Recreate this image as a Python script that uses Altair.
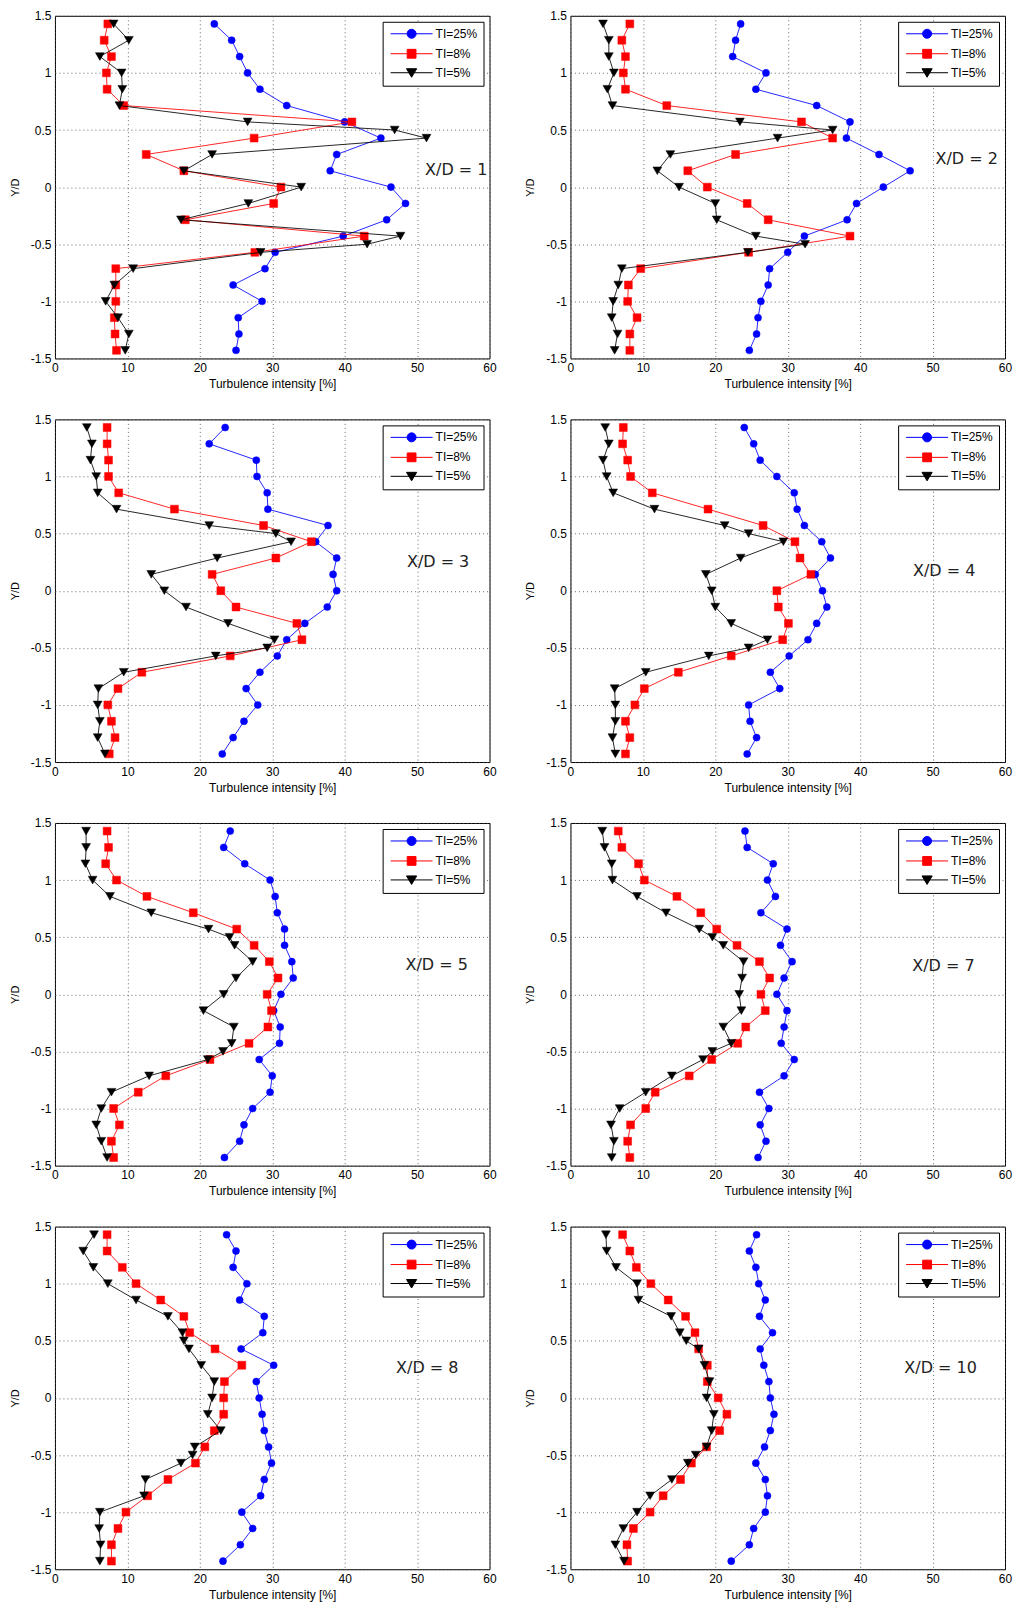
import altair as alt
import pandas as pd

# ---------------- data ----------------
Y_STATIONS = [1.429, 1.286, 1.143, 1.0, 0.857, 0.714, 0.571, 0.429, 0.286, 0.143, 0.0,
              -0.143, -0.286, -0.429, -0.571, -0.714, -0.857, -1.0, -1.143, -1.286, -1.429]
Y_STATIONS_TI5 = [1.429, 1.286, 1.143, 1.0, 0.857, 0.714, 0.571, 0.5, 0.429, 0.286, 0.143, 0.0,
                  -0.143, -0.286, -0.429, -0.5, -0.571, -0.714, -0.857, -1.0, -1.143, -1.286, -1.429]

PANEL_LABELS = ["X/D = 1", "X/D = 2", "X/D = 3", "X/D = 4",
                "X/D = 5", "X/D = 7", "X/D = 8", "X/D = 10"]
LABEL_X = [51.1, 50.4, 48.6, 47.3, 48.4, 47.2, 47.1, 46.1]
LABEL_Y = [0.15, 0.25, 0.25, 0.17, 0.26, 0.25, 0.26, 0.26]

SERIES_NAMES = ["TI=25%", "TI=8%", "TI=5%"]
SERIES_COLORS = ["#0000ff", "#ff0000", "#000000"]
SERIES_SHAPES = ["circle", "square", "triangle-down"]
SERIES_SIZES = [50, 62, 78]

TI25_XD1 = [22.0, 24.4, 25.5, 26.6, 28.3, 32.0, 40.0, 45.0, 38.9, 38.0, 46.4, 48.4, 45.8, 39.8, 30.4, 29.0, 24.6, 28.6, 25.3, 25.4, 25.0]
TI8_XD1 = [7.3, 6.8, 7.8, 7.1, 7.2, 9.5, 41.0, 27.5, 12.6, 17.8, 31.2, 30.2, 18.0, 42.7, 27.6, 8.4, 8.4, 8.4, 8.2, 8.3, 8.5]
TI5_XD1 = [8.1, 10.2, 6.2, 9.2, 9.3, 8.9, 26.6, 46.9, 51.3, 21.7, 17.8, 34.0, 26.7, 17.4, 47.7, 43.1, 28.4, 10.8, 8.2, 7.0, 8.7, 10.2, 9.7]

TI25_XD2 = [23.5, 22.8, 22.4, 27.0, 25.6, 34.0, 38.6, 38.1, 42.6, 46.9, 43.2, 39.5, 38.2, 32.3, 30.0, 27.5, 27.3, 26.3, 25.9, 25.7, 24.7]
TI8_XD2 = [8.2, 7.1, 7.6, 7.3, 7.6, 13.3, 31.9, 36.2, 22.8, 16.2, 18.9, 24.4, 27.3, 38.6, 24.6, 9.7, 8.0, 7.9, 9.2, 8.2, 8.2]
TI5_XD2 = [4.5, 5.3, 5.3, 6.0, 5.1, 5.8, 23.4, 36.2, 28.6, 13.8, 12.0, 15.0, 20.0, 20.2, 25.6, 32.4, 24.5, 7.1, 6.6, 5.9, 5.7, 6.5, 6.1]

TI25_XD3 = [23.5, 21.3, 27.8, 27.9, 29.3, 29.4, 37.7, 36.0, 38.9, 38.4, 38.9, 37.6, 34.5, 32.0, 30.7, 28.3, 26.4, 28.0, 26.1, 24.6, 23.1]
TI8_XD3 = [7.2, 7.2, 7.4, 7.4, 8.8, 16.5, 28.8, 35.4, 30.5, 21.7, 22.9, 25.0, 33.4, 34.1, 24.2, 12.0, 8.7, 7.3, 7.8, 8.3, 7.5]
TI5_XD3 = [4.4, 5.1, 4.9, 5.7, 5.9, 8.5, 21.3, 30.5, 32.6, 22.4, 13.3, 15.1, 18.1, 23.9, 30.3, 29.3, 22.2, 9.5, 6.0, 5.9, 6.2, 5.9, 6.9]

TI25_XD4 = [24.0, 25.3, 26.2, 28.5, 30.9, 31.3, 32.3, 34.7, 35.9, 33.8, 34.8, 35.4, 34.0, 32.8, 30.2, 27.6, 28.9, 24.6, 24.8, 25.7, 24.4]
TI8_XD4 = [7.3, 7.2, 7.9, 8.3, 11.3, 19.0, 26.6, 31.0, 31.7, 33.2, 28.5, 28.7, 30.1, 29.3, 22.2, 14.9, 10.2, 8.9, 7.6, 8.2, 7.6]
TI5_XD4 = [4.8, 5.3, 4.5, 5.0, 5.9, 11.6, 21.3, 24.6, 29.4, 23.5, 18.7, 19.5, 20.0, 22.2, 27.2, 24.6, 19.1, 10.4, 6.1, 6.2, 6.2, 5.8, 6.2]

TI25_XD5 = [24.2, 23.3, 26.2, 29.7, 30.4, 30.7, 31.7, 31.7, 32.7, 32.9, 31.2, 30.2, 31.1, 31.0, 28.2, 30.0, 29.7, 27.3, 26.1, 25.5, 23.4]
TI8_XD5 = [7.2, 7.4, 7.0, 8.5, 12.7, 19.1, 25.1, 27.5, 29.6, 30.8, 29.3, 29.9, 29.4, 26.8, 21.4, 15.3, 11.5, 8.1, 8.9, 7.8, 8.1]
TI5_XD5 = [4.3, 4.3, 4.2, 5.2, 7.6, 13.3, 21.2, 24.1, 24.8, 27.3, 25.0, 23.3, 20.5, 24.7, 24.4, 23.2, 21.1, 13.0, 7.8, 6.4, 5.7, 6.4, 7.2]

TI25_XD7 = [24.1, 24.4, 28.0, 27.2, 28.3, 26.3, 29.9, 29.0, 30.6, 29.5, 28.5, 29.9, 29.5, 29.1, 30.9, 29.5, 26.1, 27.4, 26.2, 27.0, 25.9]
TI8_XD7 = [6.6, 7.1, 9.4, 10.2, 14.7, 18.0, 20.2, 23.0, 26.1, 27.5, 26.3, 26.9, 24.2, 23.1, 19.5, 16.4, 11.7, 10.4, 8.3, 7.9, 8.2]
TI5_XD7 = [4.4, 4.7, 5.7, 5.8, 9.2, 13.2, 17.8, 19.6, 21.1, 23.9, 23.7, 23.3, 23.6, 21.1, 22.2, 19.6, 18.3, 14.0, 10.4, 6.8, 5.6, 6.0, 5.7]

TI25_XD8 = [23.7, 25.0, 24.6, 26.5, 25.5, 28.9, 28.7, 25.7, 30.2, 27.8, 28.2, 28.6, 28.9, 29.5, 29.9, 28.9, 28.4, 25.8, 27.3, 25.6, 23.2]
TI8_XD8 = [7.2, 7.2, 9.3, 11.2, 14.6, 17.8, 18.6, 22.1, 25.8, 23.4, 23.3, 23.3, 22.0, 20.7, 19.4, 15.6, 12.8, 9.8, 8.7, 7.8, 7.8]
TI5_XD8 = [5.4, 3.9, 5.3, 7.3, 11.2, 15.6, 17.6, 17.8, 18.5, 20.2, 22.0, 21.7, 21.1, 22.9, 19.3, 19.0, 17.4, 12.5, 12.3, 6.2, 6.1, 6.3, 6.2]

TI25_XD10 = [25.7, 24.7, 25.6, 26.0, 26.9, 26.1, 27.9, 26.2, 26.7, 27.4, 27.6, 28.1, 27.6, 26.8, 25.6, 26.9, 27.2, 26.9, 25.3, 24.7, 22.2]
TI8_XD10 = [7.2, 8.2, 9.1, 11.1, 13.5, 15.9, 17.2, 17.7, 18.9, 18.9, 20.4, 21.6, 20.6, 18.8, 16.7, 15.2, 12.8, 11.0, 8.7, 7.8, 7.9]
TI5_XD10 = [4.9, 5.0, 6.3, 9.2, 9.4, 13.9, 15.1, 16.0, 17.7, 18.5, 19.2, 18.8, 19.8, 19.5, 18.8, 17.3, 16.2, 14.0, 11.0, 9.2, 7.3, 6.2, 7.4]

PANEL_DATA = [
    (TI25_XD1, TI8_XD1, TI5_XD1), (TI25_XD2, TI8_XD2, TI5_XD2),
    (TI25_XD3, TI8_XD3, TI5_XD3), (TI25_XD4, TI8_XD4, TI5_XD4),
    (TI25_XD5, TI8_XD5, TI5_XD5), (TI25_XD7, TI8_XD7, TI5_XD7),
    (TI25_XD8, TI8_XD8, TI5_XD8), (TI25_XD10, TI8_XD10, TI5_XD10),
]

X_TICKS = [0, 10, 20, 30, 40, 50, 60]
Y_TICKS = [-1.5, -1, -0.5, 0, 0.5, 1, 1.5]

# ---------------- styling ----------------
FONT = "Liberation Sans"
PW, PH = 435, 343

# legend glyphs: a short line with the marker in its middle (shifted right so it sits in the box)
PATH_CIRCLE = "M-0.8,0H7.6M4.3,0A0.9,0.9,0,1,1,2.5,0A0.9,0.9,0,1,1,4.3,0Z"
PATH_SQUARE = "M-0.8,0H7.6M2.52,-0.88H4.28V0.88H2.52Z"
PATH_TRI = "M-0.8,0H7.6M2.38,-0.8H4.42L3.4,0.9Z"
LEGEND_PATHS = [PATH_CIRCLE, PATH_SQUARE, PATH_TRI]


def x_enc():
    return alt.X("x:Q", scale=alt.Scale(domain=[0, 60], nice=False, zero=False),
                 axis=alt.Axis(values=X_TICKS, title="Turbulence intensity [%]",
                               labelExpr="'' + datum.value", labelFlush=False,
                               labelOverlap=False, grid=True, gridColor="#444",
                               gridDash=[1, 3], gridWidth=0.8, domain=False,
                               ticks=False, labelPadding=4, labelFont=FONT,
                               labelFontSize=12, labelColor="black",
                               titleFont=FONT, titleFontSize=12,
                               titleFontWeight="normal", titleColor="black",
                               titlePadding=5))


def y_enc():
    return alt.Y("y:Q", scale=alt.Scale(domain=[-1.5, 1.5], nice=False, zero=False),
                 axis=alt.Axis(values=Y_TICKS, title="Y/D",
                               labelExpr="'' + datum.value", labelFlush=False,
                               labelOverlap=False, grid=True, gridColor="#444",
                               gridDash=[1, 3], gridWidth=0.8, domain=False,
                               ticks=False, labelPadding=4, labelFont=FONT,
                               labelFontSize=12, labelColor="black",
                               titleFont=FONT, titleFontSize=11,
                               titleFontWeight="normal", titleColor="black",
                               titlePadding=10))


def make_legend():
    return alt.Legend(title=None, orient="top-right", offset=6, padding=6,
                      strokeColor="black", fillColor="white", cornerRadius=0,
                      labelFont=FONT, labelFontSize=12, labelColor="black",
                      symbolSize=100, symbolOffset=0, labelOffset=35, rowPadding=6,
                      symbolStrokeWidth=1, symbolOpacity=1, direction="vertical")


def make_panel(i):
    layers = []
    frames = []
    for s in range(3):
        xs = PANEL_DATA[i][s]
        ys = Y_STATIONS_TI5 if s == 2 else Y_STATIONS
        df = pd.DataFrame({"x": xs, "y": ys, "idx": list(range(len(xs))),
                           "ti": [SERIES_NAMES[s]] * len(xs)})
        frames.append(df)
        base = alt.Chart(df)
        line = base.mark_line(strokeWidth=0.85, clip=True, color=SERIES_COLORS[s]).encode(
            x=x_enc(), y=y_enc(), order=alt.Order("idx:Q"))
        pts = base.mark_point(filled=True, shape=SERIES_SHAPES[s], size=SERIES_SIZES[s],
                              fill=SERIES_COLORS[s], stroke=SERIES_COLORS[s],
                              strokeWidth=0.5, opacity=1, clip=True).encode(
            x=x_enc(), y=y_enc())
        layers += [line, pts]

    # invisible layer that only carries the legend (fill, stroke and glyph per series)
    leg = make_legend()
    all_df = pd.concat(frames, ignore_index=True)
    legend_layer = alt.Chart(all_df).mark_point(filled=True, opacity=0, size=100,
                                                strokeWidth=1, clip=True).encode(
        x=x_enc(), y=y_enc(),
        fill=alt.Fill("ti:N", scale=alt.Scale(domain=SERIES_NAMES, range=SERIES_COLORS), legend=leg),
        stroke=alt.Stroke("ti:N", scale=alt.Scale(domain=SERIES_NAMES, range=SERIES_COLORS), legend=leg),
        shape=alt.Shape("ti:N", scale=alt.Scale(domain=SERIES_NAMES, range=LEGEND_PATHS), legend=leg))

    lab = pd.DataFrame({"x": [LABEL_X[i]], "y": [LABEL_Y[i]], "label": [PANEL_LABELS[i]]})
    text = alt.Chart(lab).mark_text(align="left", baseline="middle", font="DejaVu Sans",
                                    fontSize=16, color="#222222").encode(
        x=x_enc(), y=y_enc(), text="label:N")
    return alt.layer(*layers, legend_layer, text).properties(width=PW, height=PH)


panels = [make_panel(i) for i in range(8)]
chart = alt.concat(*panels, columns=2, spacing={"row": 61, "column": 81}, bounds="flush")
chart = chart.resolve_scale(fill="independent", stroke="independent", shape="independent")
chart = chart.resolve_legend(fill="independent", stroke="independent", shape="independent")
chart = chart.properties(padding={"left": 0, "top": 0, "right": 0, "bottom": 0})
chart = chart.configure_view(stroke="black", strokeWidth=1)

chart.save("out.html", embed_options={"renderer": "svg", "actions": False})
